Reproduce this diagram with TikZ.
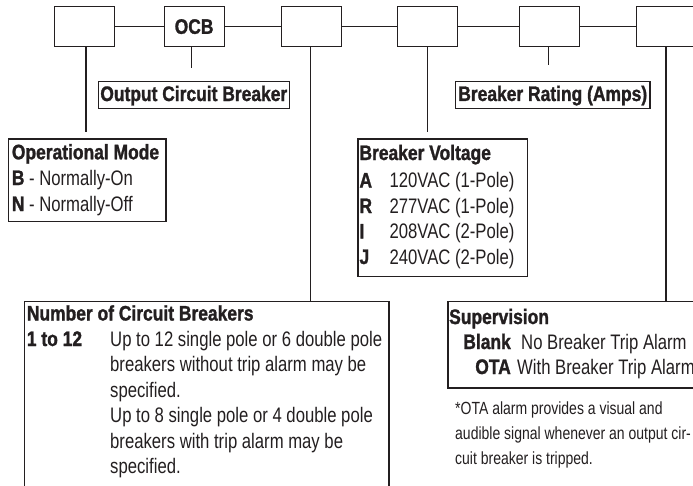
\documentclass[tikz,border=0pt]{standalone}
\usepackage{fontspec}
\setmainfont{Liberation Sans}[FakeStretch=0.795,BoldFeatures={FakeStretch=0.83,FakeBold=1.3}]
\definecolor{ink}{RGB}{35,31,32}
\begin{document}
\begin{tikzpicture}[x=1pt,y=-1pt,
  ink/.style={draw=ink,line width=1.2pt},
  topbox/.style={ink,anchor=north west,minimum width=60pt,minimum height=40pt,inner sep=0pt,text=ink,font=\fontsize{21}{24}\selectfont\bfseries},
  infobox/.style={ink,anchor=north west,inner sep=0pt},
  lbl/.style={anchor=base west,inner sep=0pt,text=ink,font=\fontsize{21}{24}\selectfont},
  blbl/.style={lbl,font=\fontsize{21}{24}\selectfont\bfseries},
  rlbl/.style={blbl,anchor=base east},
  ctext/.style={inner sep=0pt,text=ink,font=\fontsize{21}{24}\selectfont\bfseries},
  foot/.style={anchor=base west,inner sep=0pt,text=ink,font=\fontsize{17.6}{20}\selectfont},
  leader/.style={draw=ink,line width=1.1pt}]
\useasboundingbox (0,0) rectangle (693,485);
\clip (0,0) rectangle (693,485);
\fill[white] (0,0) rectangle (693,485);

% top row of boxes
\node[topbox] (b1) at (54,6) {};
\node[topbox] (b2) at (163.5,6) {OCB};
\node[topbox] (b3) at (281,6) {};
\node[topbox] (b4) at (396.5,6) {};
\node[topbox] (b5) at (518.5,6) {};
\node[topbox] (b6) at (636,6) {};
\draw[leader] (b1) -- (b2) -- (b3) -- (b4) -- (b5) -- (b6);

% info boxes
\node[infobox,minimum width=157.6pt,minimum height=82.4pt] (om) at (7.7,138.3) {};
\node[infobox,minimum width=191pt,minimum height=27pt] (ocbl) at (97.7,80.5) {};
\node[ctext] (ocbt) at ([yshift=-1pt]ocbl.center) {Output Circuit Breaker};
\node[infobox,minimum width=169.7pt,minimum height=137.4pt] (bv) at (357.3,138.3) {};
\node[infobox,minimum width=194.3pt,minimum height=27pt] (brl) at (455,80.5) {};
\node[ctext] (brt) at ([yshift=-1pt]brl.center) {Breaker Rating (Amps)};
\node[infobox,minimum width=364.3pt,minimum height=200pt] (ncb) at (24,301) {};
\node[infobox,minimum width=260pt,minimum height=86.3pt] (sup) at (447.3,301) {};

% leaders
\coordinate (e1) at (86,132);
\coordinate (e2) at (191.7,68);
\coordinate (e4) at (427.3,132);
\coordinate (e5) at (548.7,65);
\draw[leader] (b1.south -| e1) -- (e1);
\draw[leader] (b2.south -| e2) -- (e2);
\draw[leader] (b3.south -| 310.7,0) -- (ncb.north -| 310.7,0);
\draw[leader] (b4.south -| e4) -- (e4);
\draw[leader] (b5.south -| e5) -- (e5);
\draw[leader] (b6.south -| 666,0) -- (sup.north -| 666,0);

% Operational Mode
\node[blbl] (omt) at (11.7,159.3) {Operational Mode};
\node[lbl] (om1) at (11.7,185) {\textbf{B} - Normally-On};
\node[lbl] (om2) at (11.7,211) {\textbf{N} - Normally-Off};

% Breaker Voltage
\node[blbl] (bvt) at (359.3,160) {Breaker Voltage};
\node[blbl] (bva) at (359.3,187.5) {A};
\node[blbl] (bvr) at (359.3,213) {R};
\node[blbl] (bvi) at (359.3,238.5) {I};
\node[blbl] (bvj) at (359.3,264) {J};
\node[lbl] (bva2) at (389.3,187.5) {120VAC (1-Pole)};
\node[lbl] (bvr2) at (389.3,213) {277VAC (1-Pole)};
\node[lbl] (bvi2) at (389.3,238.5) {208VAC (2-Pole)};
\node[lbl] (bvj2) at (389.3,264) {240VAC (2-Pole)};

% Number of Circuit Breakers
\node[blbl] (ncbt) at (26.7,320.5) {Number of Circuit Breakers};
\node[blbl] (ncbk) at (26.7,346) {1 to 12};
\node[lbl] (n1) at (110,346) {Up to 12 single pole or 6 double pole};
\node[lbl] (n2) at (110,371.5) {breakers without trip alarm may be};
\node[lbl] (n3) at (110,397) {specified.};
\node[lbl] (n4) at (110,422.5) {Up to 8 single pole or 4 double pole};
\node[lbl] (n5) at (110,448) {breakers with trip alarm may be};
\node[lbl] (n6) at (110,473.5) {specified.};

% Supervision
\node[blbl] (supt) at (449,324) {Supervision};
\node[rlbl] (supb) at (511,349) {Blank};
\node[rlbl] (supo) at (511,374) {OTA};
\node[lbl] (supb2) at (521,349) {No Breaker Trip Alarm};
\node[lbl] (supo2) at (517,374) {With Breaker Trip Alarm*};

% footnote
\node[foot] (f1) at (455,414) {*OTA alarm provides a visual and};
\node[foot] (f2) at (455,439) {audible signal whenever an output cir-};
\node[foot] (f3) at (455,464) {cuit breaker is tripped.};
\end{tikzpicture}
\end{document}
